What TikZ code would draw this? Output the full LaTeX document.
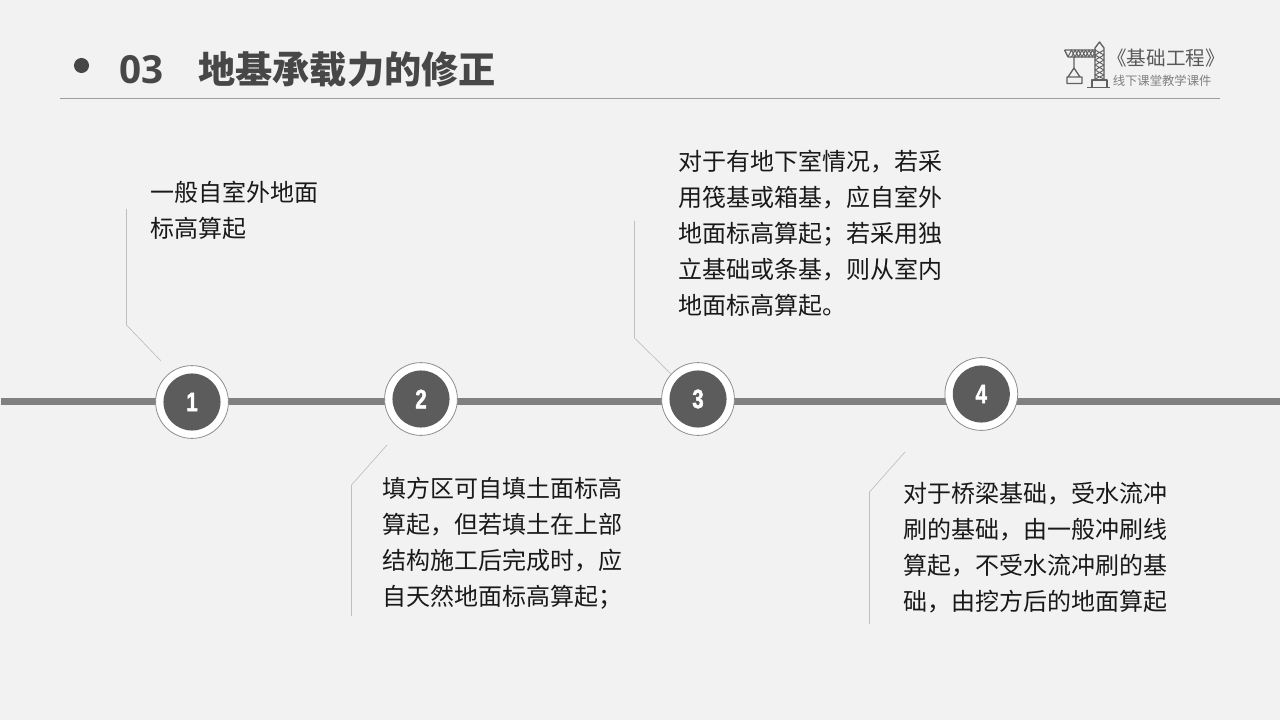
\documentclass[tikz,border=0pt]{standalone}
\usepackage{fontspec}
\setmainfont{Noto Sans CJK SC}
\newfontfamily\numfont{Liberation Sans}[UprightFont=* Bold,FakeStretch=0.76,FakeBold=1.8]
\newfontfamily\latinb{Open Sans}
\tikzset{
  px/.style={x=0.75pt,y=-0.75pt},
  body/.style={anchor=north west,inner sep=0pt,outer sep=0pt,align=left,font=\fontsize{18pt}{27pt}\selectfont,text=black!90},
  leader/.style={draw=black!25,line width=0.5pt},
  axis/.style={draw=black!50,line width=5pt},
  ringnode/.style={circle,draw=black!45,line width=0.6pt,fill=white,minimum size=54.6pt,inner sep=0pt},
  corenode/.style={circle,fill=black!64,minimum size=42.8pt,inner sep=0pt,text=white,font=\fontsize{20pt}{20pt}\selectfont\numfont},
  logoline/.style={draw=black!62,line width=1pt,line join=round},
  logothin/.style={draw=black!62,line width=0.7pt,line join=round},
}
\begin{document}
\begin{tikzpicture}[px]
\useasboundingbox (0,0) rectangle (1280,720);
\fill[black!5] (0,0) rectangle (1280,720);
% title
\node[circle,fill=black!72,minimum size=11.3pt,inner sep=0pt] (dot) at (81.5,65.5) {};
\node[anchor=west,inner sep=0pt,text=black!72] (num) at (119,69.5) {\fontsize{29pt}{29pt}\selectfont\latinb\bfseries 03};
\node[anchor=west,inner sep=0pt,text=black!72] (title) at (198,70) {\fontsize{27.9pt}{28pt}\selectfont\bfseries 地基承载力的修正};
\coordinate (ruleL) at (60,98.5);
\coordinate (ruleR) at (1220,98.5);
\draw[draw=black!38,line width=0.6pt] (ruleL) -- (ruleR);
% logo
\draw[logoline] (1064.5,50) -- (1096,50) (1068,57) -- (1096,57) (1064.5,50) -- (1068,57);
\draw[logothin] (1068,57) -- (1071.5,50) -- (1075,57) -- (1078.5,50) -- (1082,57) -- (1085.5,50) -- (1089,57) -- (1092.5,50) -- (1096,57)
  (1071.5,57) -- (1075,50) -- (1078.5,57) -- (1082,50) -- (1085.5,57) -- (1089,50) -- (1092.5,57) -- (1096,50);
\draw[logoline] (1095,79) -- (1095,48) -- (1099.5,42) -- (1104,48) -- (1104,79);
\draw[logothin] (1095,50) -- (1104,55) -- (1095,60) -- (1104,65) -- (1095,70) -- (1104,75) -- (1095,79)
  (1104,50) -- (1095,55) -- (1104,60) -- (1095,65) -- (1104,70) -- (1095,75) -- (1104,79);
\draw[logoline] (1092,87) -- (1092,80) -- (1107,80) -- (1107,87) (1087,87.5) -- (1110,87.5);
\draw[logoline] (1074,57) -- (1074,68) (1068,77) -- (1074,68) -- (1080,77) (1067,77) rectangle (1082,83.5);
\node[anchor=west,inner sep=0pt,text=black!65] (logoA) at (1107,58) {\fontsize{14.7pt}{15pt}\selectfont 《基础工程》};
\node[anchor=west,inner sep=0pt,text=black!50] (logoB) at (1112.5,80.5) {\fontsize{9.25pt}{10pt}\selectfont 线下课堂教学课件};
% axis
\coordinate (axisL) at (1,401.3);
\coordinate (axisR) at (1280,401.3);
\draw[axis] (axisL) -- (axisR);
% leaders
\coordinate (a1) at (126.5,209); \coordinate (a2) at (126.5,325); \coordinate (a3) at (161,361);
\draw[leader] (a1) -- (a2) -- (a3);
\coordinate (b1) at (351.5,616); \coordinate (b2) at (351.5,485); \coordinate (b3) at (387,445);
\draw[leader] (b1) -- (b2) -- (b3);
\coordinate (c1) at (634.5,221); \coordinate (c2) at (634.5,338); \coordinate (c3) at (671,374);
\draw[leader] (c1) -- (c2) -- (c3);
\coordinate (d1) at (869.5,624); \coordinate (d2) at (869.5,492); \coordinate (d3) at (905,452);
\draw[leader] (d1) -- (d2) -- (d3);
% circles
\node[ringnode] (r1) at (192,402) {};
\node[corenode] (n1) at (192,402) {1};
\node[ringnode] (r2) at (421,399) {};
\node[corenode] (n2) at (421,399) {2};
\node[ringnode] (r3) at (698,399) {};
\node[corenode] (n3) at (698,399) {3};
\node[ringnode] (r4) at (981.3,394) {};
\node[corenode] (n4) at (981.3,394) {4};
% text
\node[body] (t1) at (150,181.5) {一般自室外地面\\标高算起};
\node[body] (t3) at (678.5,150) {对于有地下室情况，若采\\用筏基或箱基，应自室外\\地面标高算起；若采用独\\立基础或条基，则从室内\\地面标高算起。};
\node[body] (t2) at (382.5,477.5) {填方区可自填土面标高\\算起，但若填土在上部\\结构施工后完成时，应\\自天然地面标高算起；};
\node[body] (t4) at (903.5,482) {对于桥梁基础，受水流冲\\刷的基础，由一般冲刷线\\算起，不受水流冲刷的基\\础，由挖方后的地面算起};
\end{tikzpicture}
\end{document}
